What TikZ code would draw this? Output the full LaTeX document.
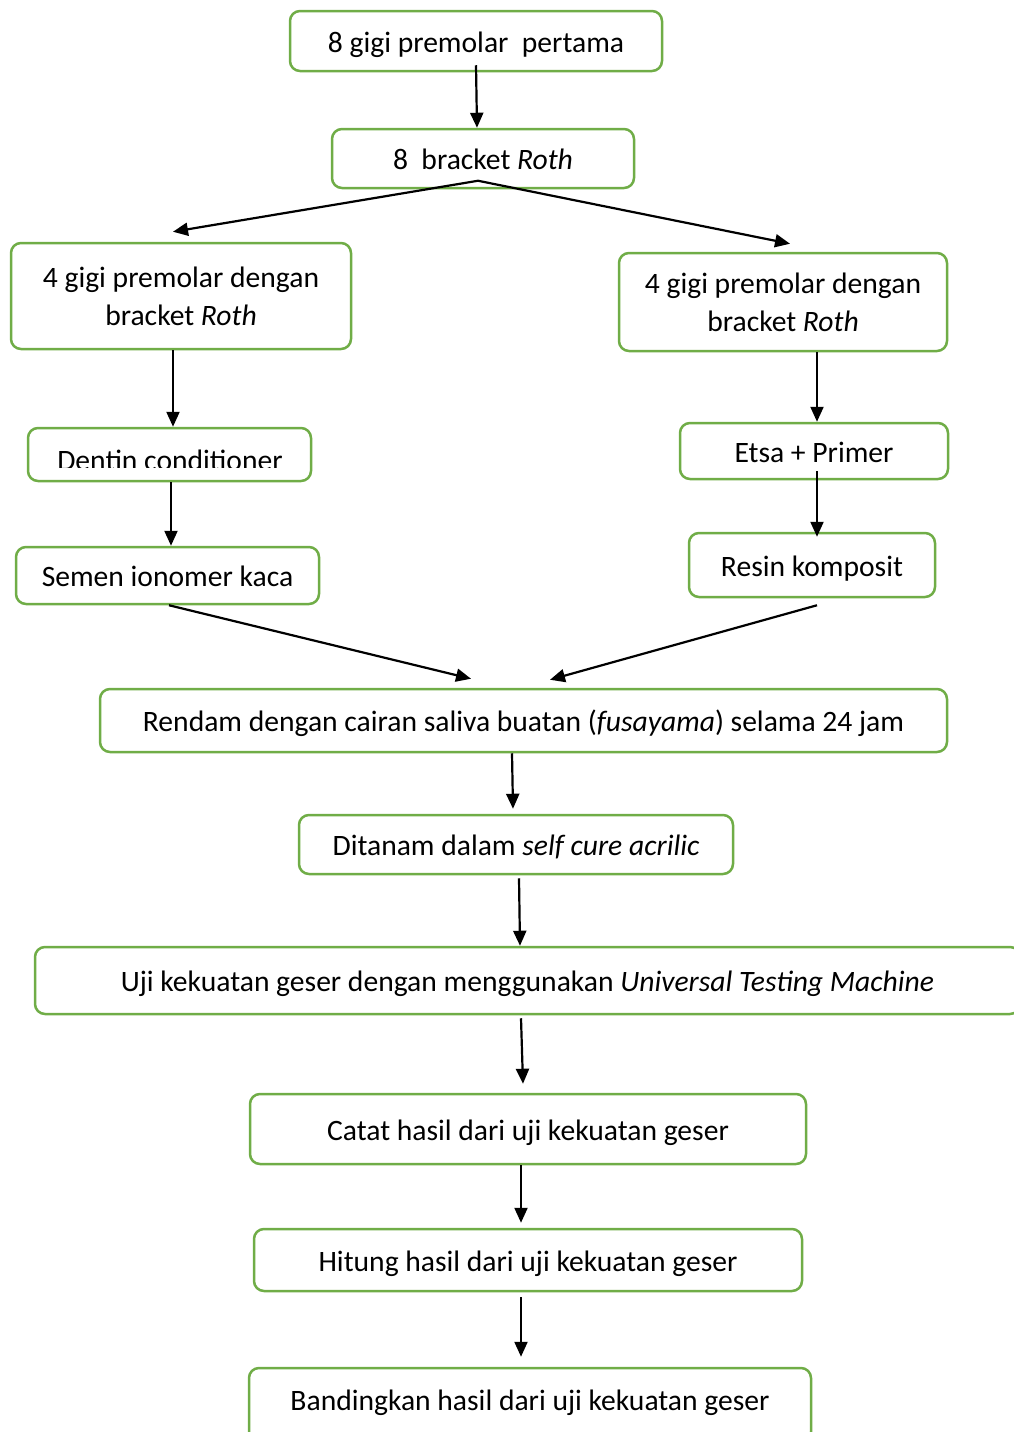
\documentclass[tikz,border=0pt]{standalone}
\usepackage{fontspec}
\setmainfont{Carlito}
\usetikzlibrary{arrows.meta}
\definecolor{boxgreen}{HTML}{70AD47}
\begin{document}
\begin{tikzpicture}[x=1pt,y=-1pt,
  boxbase/.style={draw=boxgreen,line width=2.5pt,rounded corners=10pt,fill=white,
    align=center,inner sep=0pt,font=\fontsize{29.6}{38}\selectfont},
  box/.style={boxbase,text height=29pt,text depth=7pt},
  mbox/.style={boxbase},
  lbl/.style={inner sep=0pt,align=center,font=\fontsize{29.6}{38}\selectfont},
  arr/.style={draw=black,line width=2.2pt,-{Triangle[length=15pt,width=13pt]}}]
\useasboundingbox (0,0) rectangle (1013,1432);
\node[box,minimum width=372pt,minimum height=60pt] (b1) at (476,41) {8 gigi premolar\ \ pertama};
\node[box,minimum width=302pt,minimum height=59pt] (b2) at (483,158.5) {8\ \ bracket \textit{Roth}};
\node[mbox,minimum width=340pt,minimum height=106pt] (b3) at (181,296) {4 gigi premolar dengan\\bracket \textit{Roth}};
\node[mbox,minimum width=328pt,minimum height=98pt] (b4) at (783,302) {4 gigi premolar dengan\\bracket \textit{Roth}};
\node[box,minimum width=283pt,minimum height=53pt] (b5) at (169.5,454.5) {};
\begin{scope}
\clip (30,430) rectangle (309,467);
\node[lbl,anchor=base] (b5t) at (170,470) {Dentin conditioner};
\end{scope}
\node[box,minimum width=303pt,minimum height=57pt] (b6) at (167.5,575.5) {Semen ionomer kaca};
\node[box,minimum width=268pt,minimum height=56pt] (b7) at (814,451) {Etsa + Primer};
\node[box,minimum width=246pt,minimum height=64pt] (b8) at (812,565) {Resin komposit};
\node[box,minimum width=847pt,minimum height=63pt] (b9) at (523.5,720.5) {Rendam dengan cairan saliva buatan (\textit{fusayama}) selama 24 jam};
\node[box,minimum width=434pt,minimum height=59pt] (b10) at (516,844.5) {Ditanam dalam \textit{self cure acrilic}};
\node[box,minimum width=985pt,minimum height=67pt] (b11) at (527.5,980.5) {Uji kekuatan geser dengan menggunakan \textit{Universal Testing Machine}};
\node[box,minimum width=556pt,minimum height=70pt] (b12) at (528,1129) {Catat hasil dari uji kekuatan geser};
\node[box,minimum width=548pt,minimum height=62pt] (b13) at (528,1260) {Hitung hasil dari uji kekuatan geser};
\node[box,minimum width=562pt,minimum height=74pt] (b14) at (530,1405) {\raisebox{6pt}{Bandingkan hasil dari uji kekuatan geser}};
% connectors
\draw[arr] ([yshift=7pt]b1.south) -- ([xshift=-6pt]b2.north);
\draw[arr] ([xshift=-5pt,yshift=8.5pt]b2.south) -- ([xshift=-8pt,yshift=10pt]b3.north);
\draw[arr] ([xshift=-5pt,yshift=8.5pt]b2.south) -- ([xshift=7pt,yshift=8pt]b4.north);
\draw[arr] ([xshift=-8pt]b3.south) -- ([xshift=3.5pt]b5.north);
\draw[arr] ([xshift=1.5pt]b5.south) -- ([xshift=3.5pt]b6.north);
\draw[arr] ([xshift=34pt]b4.south) -- ([xshift=3pt]b7.north);
\draw[arr] ([xshift=3pt,yshift=9pt]b7.south) -- ([xshift=5pt,yshift=-5pt]b8.north);
\draw[arr] ([xshift=1.5pt]b6.south) -- ([xshift=-52.5pt,yshift=9pt]b9.north);
\draw[arr] ([xshift=5pt,yshift=-7pt]b8.south) -- ([xshift=26.5pt,yshift=8pt]b9.north);
\draw[arr] ([xshift=-11.5pt]b9.south) -- ([xshift=-3pt,yshift=5pt]b10.north);
\draw[arr] ([xshift=3pt,yshift=-3pt]b10.south) -- ([xshift=-7.5pt]b11.north);
\draw[arr] ([xshift=-6.5pt,yshift=-3pt]b11.south) -- ([xshift=-5pt,yshift=9pt]b12.north);
\draw[arr] ([xshift=-7pt]b12.south) -- ([xshift=-7pt,yshift=5pt]b13.north);
\draw[arr] ([xshift=-7pt,yshift=-5pt]b13.south) -- ([xshift=-9pt,yshift=10pt]b14.north);
\end{tikzpicture}
\end{document}
